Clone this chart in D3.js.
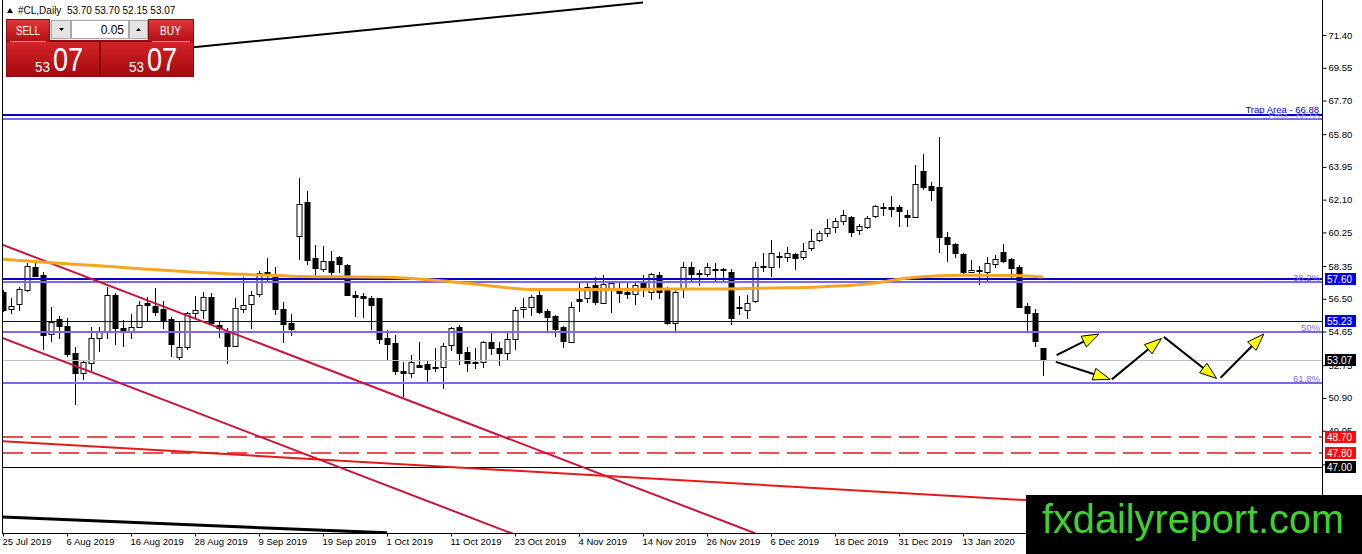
<!DOCTYPE html>
<html><head><meta charset="utf-8">
<script src="https://cdn.jsdelivr.net/npm/d3@7"></script>
<style>
html,body{margin:0;padding:0;background:#fff;}
svg{display:block;font-family:"Liberation Sans",Arial,sans-serif;}
</style></head>
<body>
<svg id="c" width="1362" height="554"></svg>
<script>
// ---------- DATA ----------
const symbol = "#CL,Daily";
const headerOHLC = [53.70, 53.70, 52.15, 53.07];
const tickIdx = [0,8,16,24,32,40,48,56,64,72,80,88,96,104,112,120];
const tickLabels = ["25 Jul 2019","6 Aug 2019","16 Aug 2019","28 Aug 2019","9 Sep 2019","19 Sep 2019","1 Oct 2019","11 Oct 2019","23 Oct 2019","4 Nov 2019","14 Nov 2019","26 Nov 2019","6 Dec 2019","18 Dec 2019","31 Dec 2019","13 Jan 2020"];
const priceTicks = [71.40,69.55,67.70,65.80,63.95,62.10,60.25,58.35,56.50,54.65,52.75,50.90,49.05,47.15,45.30];

const open = [56.90,55.90,56.18,56.99,58.27,57.84,54.49,55.34,54.96,53.42,52.32,52.89,54.26,54.70,56.71,54.87,54.70,54.92,56.28,56.09,55.92,55.34,53.19,53.75,55.68,55.86,56.58,55.02,54.58,53.85,55.90,56.18,56.77,58.03,57.75,55.90,55.11,60.04,61.95,58.78,58.16,58.65,58.84,58.41,56.69,56.65,56.56,56.52,54.26,53.98,52.42,52.29,52.76,52.79,52.66,52.66,53.89,54.92,53.51,52.93,52.95,54.04,53.70,53.42,54.21,55.90,56.05,56.71,55.83,55.52,54.88,54.07,56.47,56.52,57.28,56.28,57.09,57.09,56.90,56.75,57.37,56.90,57.84,57.09,55.11,57.09,58.27,57.94,57.88,58.18,58.12,57.99,56.01,55.86,56.39,58.35,58.27,58.91,58.88,59.01,58.84,59.35,59.82,60.20,60.53,60.89,61.10,60.38,60.57,61.17,61.65,61.66,61.66,61.21,61.14,63.72,62.87,62.79,59.97,59.57,59.03,57.99,58.12,58.03,58.46,59.12,58.74,58.31,56.09,55.71,53.70];
const high = [56.99,56.52,57.18,58.50,58.50,57.99,56.05,55.52,55.39,53.75,53.04,54.88,54.88,57.18,56.81,55.30,55.64,56.37,56.62,57.09,56.37,55.45,55.20,55.77,56.65,56.90,56.81,55.24,54.83,56.52,57.75,56.96,58.09,58.78,58.31,56.33,55.64,63.30,62.59,59.54,59.48,59.20,58.91,58.46,56.96,56.84,56.65,56.56,54.73,54.45,52.95,53.32,54.08,53.04,53.74,53.98,54.92,55.00,53.79,53.70,54.13,54.55,54.08,54.55,56.05,56.52,56.71,56.99,55.90,55.60,54.95,56.33,57.37,57.46,57.75,57.84,57.46,57.46,57.46,57.46,57.84,57.94,58.03,57.15,56.99,58.59,58.59,58.12,58.50,58.54,58.26,58.18,56.65,56.71,58.59,59.07,59.82,59.16,59.44,59.07,59.67,60.42,60.33,60.99,61.04,61.51,61.17,60.72,61.17,61.80,61.93,62.30,61.80,61.51,64.06,64.68,63.11,65.66,60.29,59.63,59.10,58.69,58.35,58.88,58.97,59.59,58.78,58.41,56.24,55.90,53.70];
const low = [55.77,55.64,55.81,56.90,57.75,53.60,54.07,54.21,53.23,50.50,51.91,52.44,53.51,54.21,53.89,53.75,54.21,54.88,55.17,55.52,54.77,53.19,53.04,53.60,55.39,55.36,55.11,54.30,52.79,53.79,55.71,54.77,56.62,57.46,55.58,53.98,54.41,58.69,58.41,57.78,58.03,57.78,57.94,56.65,55.49,55.39,54.73,53.92,53.04,52.19,50.97,52.00,52.57,51.78,52.38,51.38,53.57,52.76,52.38,52.51,52.57,53.32,52.70,53.00,53.60,55.39,55.52,55.64,54.64,54.36,53.70,54.02,55.77,56.24,56.15,56.24,55.71,56.24,56.47,56.15,56.58,56.43,56.47,55.02,54.64,56.52,57.46,57.22,57.75,57.41,57.46,55.02,55.58,55.34,56.24,58.03,57.71,58.22,58.59,58.12,58.69,59.22,59.72,59.97,60.20,60.67,59.97,60.10,60.42,61.04,61.17,61.10,60.57,60.57,61.08,62.64,62.04,59.10,58.59,58.78,57.84,57.93,57.28,57.52,58.22,58.50,57.65,55.96,54.70,53.79,52.15];
const close = [55.86,56.11,57.03,58.35,57.80,54.45,55.20,54.98,53.38,52.29,52.91,54.26,54.70,56.71,54.87,54.64,54.88,56.13,56.13,55.77,55.30,53.94,53.75,55.68,55.84,56.58,55.15,54.83,53.85,55.96,56.13,56.71,57.97,57.90,55.90,55.07,54.77,61.85,58.69,58.22,58.65,57.99,58.44,56.71,56.62,56.52,56.15,54.21,53.92,52.44,52.29,52.95,52.66,52.51,52.59,53.83,54.83,53.42,52.85,52.89,54.08,53.70,53.42,54.21,55.86,56.05,56.58,55.77,55.49,54.77,54.13,56.01,56.39,57.18,56.33,57.31,57.37,56.84,56.75,57.28,57.05,57.90,56.90,55.11,56.90,58.27,57.88,57.90,58.27,58.12,58.20,55.39,55.96,56.24,58.31,58.31,59.07,58.88,59.07,58.78,59.22,59.76,60.20,60.48,60.89,61.23,60.29,60.61,61.08,61.74,61.70,61.59,61.48,61.14,62.98,62.79,62.64,59.97,59.57,59.07,58.03,58.10,58.05,58.54,58.76,58.63,58.22,56.05,55.68,54.13,53.07];

// EMA readings (bar index, value)
const emaIdx = [0,6,12,18,24,30,36,42,48,54,60,66,72,78,84,90,96,102,108,114,120,126,130];
const emaVal = [58.74,58.53,58.36,58.17,58.00,57.88,57.78,57.74,57.72,57.55,57.28,57.03,57.02,57.03,57.05,57.06,57.11,57.17,57.33,57.72,57.83,57.82,57.73];

// horizontal levels
const trapLevel = 66.88, trapText = "Trap Area - 66.88";
const emaLevel = 66.65, emaText = "Ema - 66.55";
const fibPrices = [57.45, 54.60, 51.72];
const fibTexts = ["38.2%", "50%", "61.8%"];
const blueLevel = 57.60, navyLevel = 55.23, bidLevel = 53.07;
const redDashLevels = [48.70, 47.80];
const blackLevel = 47.00;

// trend lines [[barIndex, price],[barIndex, price]]
const blackTop = [[10,70.09],[80,73.23]];
const blackBottom = [[0,44.17],[48,43.28]];
const crimsonUpper = [[0,59.54],[94,43.26]];
const crimsonLower = [[0,54.28],[64,43.18]];
const redLong = [[0,48.46],[165,44.16]];

// projected path arrows [fromIdx, fromPrice, toIdx, toPrice]
const arrows = [
  [131.7,53.32,137.0,54.51],
  [131.6,52.94,138.4,51.95],
  [138.6,51.95,144.8,54.26],
  [145.1,54.35,151.7,52.00],
  [152.2,52.04,157.6,54.51]
];

const bidPrice = "53", bidPips = "07";
const lotSize = "0.05";
const watermark = "fxdailyreport.com";

// ---------- DRAW ----------
const W = 1362, H = 554;
const plotL = 3, plotR = 1322, plotB = 533;
const svg = d3.select("#c");
const x = d3.scaleLinear().domain([0,130]).range([3,1043]);
const y = d3.scaleLinear().domain([47.00,71.40]).range([467,35]);
const FS = 9.5;
const crisp = v => Math.round(v)+0.5;

svg.append("rect").attr("width",W).attr("height",H).attr("fill","#fff");
const defs = svg.append("defs");
defs.append("clipPath").attr("id","plot").append("rect")
  .attr("x",plotL).attr("y",0).attr("width",plotR-plotL).attr("height",plotB);
const g1 = defs.append("linearGradient").attr("id","redg").attr("x1",0).attr("y1",0).attr("x2",0).attr("y2",1);
g1.append("stop").attr("offset","0%").attr("stop-color","#e0393d");
g1.append("stop").attr("offset","100%").attr("stop-color","#b30f14");
const g2 = defs.append("linearGradient").attr("id","redg2").attr("x1",0).attr("y1",0).attr("x2",0).attr("y2",1);
g2.append("stop").attr("offset","0%").attr("stop-color","#d22328");
g2.append("stop").attr("offset","100%").attr("stop-color","#a50a0f");

const plot = svg.append("g").attr("clip-path","url(#plot)");

// candles
const candles = plot.append("g");
for (let i=0;i<open.length;i++){
  const cx = crisp(x(i));
  const o=open[i], c=close[i], h=high[i], l=low[i];
  candles.append("line").attr("x1",cx).attr("x2",cx)
    .attr("y1",Math.round(y(h))).attr("y2",Math.round(y(l))).attr("stroke","#000").attr("stroke-width",1);
  const top = Math.round(y(Math.max(o,c))), bot = Math.round(y(Math.min(o,c)));
  const bull = c>=o;
  candles.append("rect").attr("x",cx-2.5).attr("width",5)
    .attr("y",top+0.5).attr("height",Math.max(1,bot-top))
    .attr("fill",bull?"#fff":"#000").attr("stroke","#000").attr("stroke-width",1);
}

// horizontal lines
function hline(p,color,w,dash){
  const yy = Math.round(y(p)) + (w===1 ? 0.5 : 0);
  const l = plot.append("line").attr("x1",plotL).attr("x2",plotR)
    .attr("y1",yy).attr("y2",yy).attr("stroke",color).attr("stroke-width",w);
  if(dash) l.attr("stroke-dasharray",dash);
  return l;
}
hline(bidLevel,"#c0c0c0",1);
hline(emaLevel,"#7b68ee",2);
hline(trapLevel,"#0000cd",2);
fibPrices.forEach(p=>hline(p,"#7b68ee",2));
hline(blueLevel,"#0000cd",2);
hline(navyLevel,"#000080",1);
redDashLevels.forEach(p=>hline(p,"#e8141c",1.5,"20,8"));
hline(blackLevel,"#000",1);

// trend lines
function tline(pts,color,w){
  plot.append("line").attr("x1",x(pts[0][0])).attr("y1",y(pts[0][1]))
    .attr("x2",x(pts[1][0])).attr("y2",y(pts[1][1]))
    .attr("stroke",color).attr("stroke-width",w);
}
tline(blackTop,"#000",2);
tline(blackBottom,"#000",3);
tline(crimsonUpper,"#c8143c",2);
tline(crimsonLower,"#c8143c",2);
tline(redLong,"#e41a1a",2);

// EMA
plot.append("path").datum(emaIdx.map((d,i)=>[d,emaVal[i]]))
  .attr("d",d3.line().x(d=>x(d[0])).y(d=>y(d[1])).curve(d3.curveMonotoneX))
  .attr("fill","none").attr("stroke","#f5a623").attr("stroke-width",3);

// level texts
const lvlTxt = svg.append("g").attr("font-size",FS).attr("text-anchor","end");
lvlTxt.append("text").attr("x",1320).attr("y",y(emaLevel)).attr("fill","#9a8ff0").text(emaText);
lvlTxt.append("text").attr("x",1319).attr("y",y(trapLevel)-2).attr("fill","#0000cd").text(trapText);
fibPrices.forEach((p,i)=>lvlTxt.append("text").attr("x",1320).attr("y",y(p)-1).attr("fill","#7b68ee").text(fibTexts[i]));

// arrows
const ag = svg.append("g");
arrows.forEach(a=>{
  const x1=x(a[0]), y1=y(a[1]), x2=x(a[2]), y2=y(a[3]);
  const dx=x2-x1, dy=y2-y1, L=Math.hypot(dx,dy), ux=dx/L, uy=dy/L;
  const hl=17, hw=6;
  const bx=x2-ux*hl, by=y2-uy*hl;
  ag.append("line").attr("x1",x1).attr("y1",y1).attr("x2",bx+ux*2).attr("y2",by+uy*2)
    .attr("stroke","#000").attr("stroke-width",2);
  ag.append("polygon").attr("points",[[x2,y2],[bx-uy*hw,by+ux*hw],[bx+uy*hw,by-ux*hw]].map(p=>p.join(",")).join(" "))
    .attr("fill","#ffff00").attr("stroke","#000").attr("stroke-width",1);
});

// frame
svg.append("line").attr("x1",2.5).attr("x2",2.5).attr("y1",0).attr("y2",plotB).attr("stroke","#000");
svg.append("line").attr("x1",plotR+0.5).attr("x2",plotR+0.5).attr("y1",0).attr("y2",plotB).attr("stroke","#000");
svg.append("line").attr("x1",2).attr("x2",plotR+1).attr("y1",plotB+0.5).attr("y2",plotB+0.5).attr("stroke","#000");

// right axis
const ra = svg.append("g").attr("transform",`translate(${plotR+0.5},0)`)
  .call(d3.axisRight(y).tickValues(priceTicks).tickFormat(d3.format(".2f")).tickSize(4).tickPadding(2));
ra.select(".domain").remove();
ra.selectAll("text").attr("font-size",FS).attr("fill","#000").attr("font-family","Liberation Sans, Arial, sans-serif");
ra.selectAll("line").attr("stroke","#000");

// bottom axis
const ba = svg.append("g").attr("transform",`translate(0,${plotB+0.5})`)
  .call(d3.axisBottom(x).tickValues(tickIdx).tickFormat((d,i)=>tickLabels[i]).tickSize(3).tickPadding(2));
ba.select(".domain").remove();
ba.selectAll("text").attr("font-size",FS).attr("fill","#000").attr("text-anchor","start")
  .attr("dx",-1).attr("font-family","Liberation Sans, Arial, sans-serif");
ba.selectAll("line").attr("stroke","#000");

// right price boxes
function pbox(p,bg){
  const yy=Math.round(y(p));
  svg.append("rect").attr("x",plotR+3).attr("y",yy-6).attr("width",31).attr("height",12).attr("fill",bg);
  svg.append("text").attr("x",plotR+5).attr("y",yy+3.5).attr("font-size",FS+0.5).attr("fill","#fff").text(p.toFixed(2));
}
pbox(blueLevel,"#0000e6");
pbox(navyLevel,"#0000e6");
pbox(bidLevel,"#000");
redDashLevels.forEach(p=>pbox(p,"#ff0a0a"));
pbox(blackLevel,"#000");

// header
svg.append("path").attr("d","M7,13 L10,8 L13,13 Z").attr("fill","#000");
svg.append("text").attr("x",18).attr("y",14).attr("font-size",10).attr("fill","#000")
  .attr("xml:space","preserve").text(symbol+"  "+headerOHLC.map(v=>v.toFixed(2)).join(" "));

// trade panel
const pn = svg.append("g");
pn.append("rect").attr("x",6).attr("y",19).attr("width",188).attr("height",58).attr("fill","#8a0a0d");
pn.append("rect").attr("x",7).attr("y",20).attr("width",42).attr("height",21).attr("fill","url(#redg)");
pn.append("rect").attr("x",149).attr("y",20).attr("width",44).attr("height",21).attr("fill","url(#redg)");
pn.append("rect").attr("x",50).attr("y",19).attr("width",98).attr("height",21).attr("fill","#f0f0f0");
pn.append("rect").attr("x",51.5).attr("y",20.5).attr("width",19).attr("height",18).attr("fill","#e4e4e4").attr("stroke","#a8a8a8");
pn.append("rect").attr("x",71.5).attr("y",20.5).attr("width",57).attr("height",18).attr("fill","#fff").attr("stroke","#a8a8a8");
pn.append("rect").attr("x",129.5).attr("y",20.5).attr("width",18).attr("height",18).attr("fill","#e4e4e4").attr("stroke","#a8a8a8");
pn.append("path").attr("d","M59,28 L64,28 L61.5,31 Z").attr("fill","#000");
pn.append("path").attr("d","M136,31 L141,31 L138.5,28 Z").attr("fill","#000");
pn.append("text").attr("x",124).attr("y",34).attr("text-anchor","end").attr("font-size",12).attr("fill","#000").text(lotSize);
pn.append("line").attr("x1",10).attr("x2",46).attr("y1",41.5).attr("y2",41.5).attr("stroke","#e88");
pn.append("line").attr("x1",152).attr("x2",190).attr("y1",41.5).attr("y2",41.5).attr("stroke","#e88");
pn.append("text").attr("x",28).attr("y",35).attr("text-anchor","middle").attr("font-size",13).attr("fill","#fff")
  .attr("textLength",24).attr("lengthAdjust","spacingAndGlyphs").text("SELL");
pn.append("text").attr("x",170.5).attr("y",35).attr("text-anchor","middle").attr("font-size",13).attr("fill","#fff")
  .attr("textLength",21).attr("lengthAdjust","spacingAndGlyphs").text("BUY");
pn.append("rect").attr("x",7).attr("y",42).attr("width",92).attr("height",34).attr("fill","url(#redg2)");
pn.append("rect").attr("x",101).attr("y",42).attr("width",92).attr("height",34).attr("fill","url(#redg2)");
[[35,53],[129,147]].forEach(p=>{
  pn.append("text").attr("x",p[0]).attr("y",72).attr("font-size",14).attr("fill","#fff")
    .attr("textLength",15).attr("lengthAdjust","spacingAndGlyphs").text(bidPrice);
  pn.append("text").attr("x",p[1]).attr("y",71).attr("font-size",33).attr("fill","#fff")
    .attr("textLength",30).attr("lengthAdjust","spacingAndGlyphs").text(bidPips);
});

// watermark
svg.append("rect").attr("x",1026).attr("y",495).attr("width",W-1026).attr("height",H-495).attr("fill","#000");
svg.append("text").attr("x",1042).attr("y",533).attr("font-size",40).attr("fill","#3fd22c")
  .attr("textLength",302).attr("lengthAdjust","spacingAndGlyphs").text(watermark);
</script>
</body></html>
